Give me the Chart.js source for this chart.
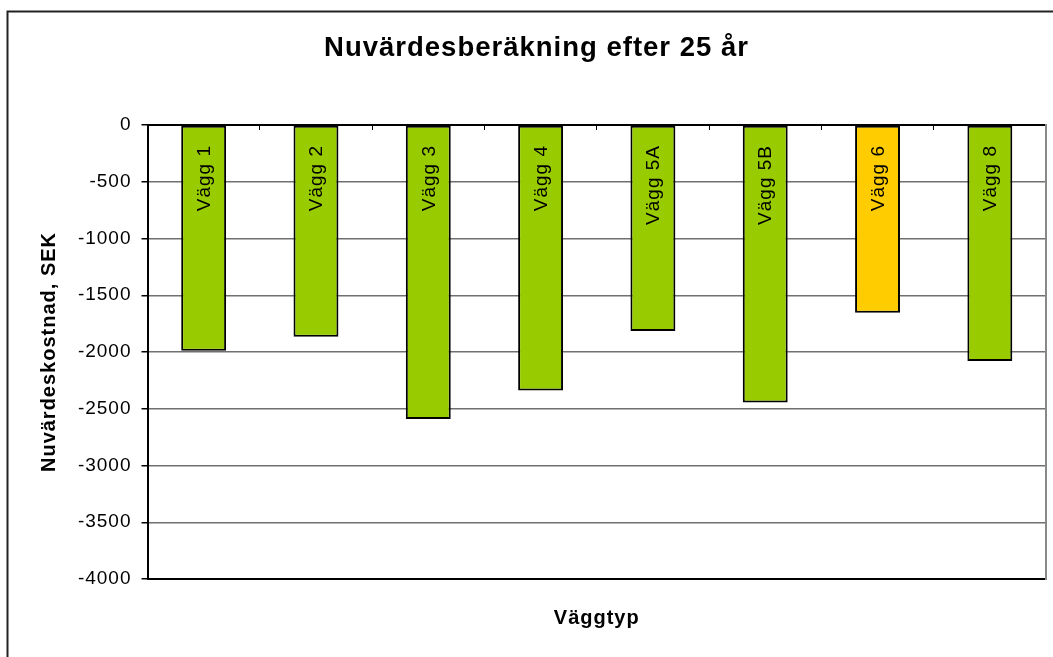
<!DOCTYPE html>
<html>
<head>
<meta charset="utf-8">
<script src="https://cdn.jsdelivr.net/npm/chart.js@4.4.1/dist/chart.umd.min.js"></script>
<style>
  html, body { margin: 0; padding: 0; background: #ffffff; }
  #wrap { width: 1053px; height: 657px; position: relative; }
</style>
</head>
<body>
<div id="wrap"><canvas id="c"></canvas></div>
<script>
const chartTitle = 'Nuvärdesberäkning efter 25 år';
const xTitle = 'Väggtyp';
const yTitle = 'Nuvärdeskostnad, SEK';
const categories = ['Vägg 1', 'Vägg 2', 'Vägg 3', 'Vägg 4', 'Vägg 5A', 'Vägg 5B', 'Vägg 6', 'Vägg 8'];
const values = [-1990, -1865, -2590, -2340, -1815, -2445, -1655, -2080];
const barColors = ['#99CC00', '#99CC00', '#99CC00', '#99CC00', '#99CC00', '#99CC00', '#FFCC00', '#99CC00'];
const yMin = -4000, yMax = 0, yStep = 500;

const FONT = "'Liberation Sans', Arial, sans-serif";

const spacingPlugin = {
  id: 'spacing',
  beforeDraw(chart) {
    chart.ctx.letterSpacing = '1px';
  }
};

const barLabelPlugin = {
  id: 'barLabels',
  afterDatasetsDraw(chart) {
    const ctx = chart.ctx;
    const meta = chart.getDatasetMeta(0);
    const y0 = chart.scales.y.getPixelForValue(0);
    ctx.save();
    ctx.font = '19px ' + FONT;
    ctx.fillStyle = '#000';
    ctx.textAlign = 'right';
    ctx.textBaseline = 'middle';
    meta.data.forEach((bar, i) => {
      ctx.save();
      ctx.translate(bar.x + 1, y0 + 20);
      ctx.rotate(-Math.PI / 2);
      ctx.fillText(categories[i], 0, 0);
      ctx.restore();
    });
    ctx.restore();
  }
};

const framePlugin = {
  id: 'frame',
  afterDraw(chart) {
    const ctx = chart.ctx;
    ctx.save();
    ctx.strokeStyle = '#222';
    ctx.lineWidth = 2;
    ctx.strokeRect(7.5, 11.5, 1200, 800);
    ctx.restore();
  }
};

new Chart(document.getElementById('c'), {
  type: 'bar',
  data: {
    labels: categories,
    datasets: [{
      data: values,
      backgroundColor: barColors,
      borderColor: '#000',
      borderWidth: 2,
      borderSkipped: false,
      categoryPercentage: 1,
      barPercentage: 0.4,
      xAxisID: 'x',
      yAxisID: 'y'
    }]
  },
  options: {
    responsive: true,
    maintainAspectRatio: false,
    animation: false,
    layout: { padding: { left: 20, right: 0, top: 0, bottom: 0 } },
    plugins: {
      legend: { display: false },
      tooltip: { enabled: false },
      title: {
        display: true,
        text: chartTitle,
        color: '#000',
        font: { family: FONT, size: 27.5, weight: 'bold', lineHeight: 1.2 },
        padding: { top: 32, bottom: 60 }
      }
    },
    scales: {
      x: {
        type: 'category',
        position: 'bottom',
        offset: true,
        ticks: { display: false },
        grid: { display: false, offset: true },
        border: { display: true, color: '#000', width: 2 },
        title: {
          display: true,
          text: xTitle,
          color: '#000',
          font: { family: FONT, size: 20, weight: 'bold', lineHeight: 1.2 },
          padding: { top: 0, bottom: 27 }
        },
        afterFit(s) { s.height = 78; }
      },
      x2: {
        type: 'category',
        position: 'top',
        labels: categories,
        offset: true,
        ticks: { display: false },
        grid: {
          display: true,
          offset: true,
          drawOnChartArea: false,
          drawTicks: true,
          tickLength: -5,
          color: '#000',
          lineWidth: 1
        },
        border: { display: true, color: '#000', width: 2 },
        afterFit(s) { s.height = 0; }
      },
      y: {
        position: 'left',
        min: yMin,
        max: yMax,
        ticks: {
          stepSize: yStep,
          color: '#000',
          padding: 10,
          font: { family: FONT, size: 19 },
          callback: (v) => String(v)
        },
        grid: {
          color: '#707070',
          lineWidth: 1.5,
          tickColor: '#000',
          tickLength: 6,
          drawTicks: true
        },
        border: { display: true, color: '#000', width: 2 },
        title: {
          display: true,
          text: yTitle,
          color: '#000',
          font: { family: FONT, size: 20, weight: 'bold', lineHeight: 1.2 },
          padding: { top: 17, bottom: 0 }
        },
        afterFit(s) { s.width = 127.5; }
      },
      y2: {
        position: 'right',
        min: yMin,
        max: yMax,
        ticks: { display: false },
        grid: { display: false, drawOnChartArea: false, drawTicks: false },
        border: { display: true, color: '#888', width: 2 },
        afterFit(s) { s.width = 7; }
      }
    }
  },
  plugins: [spacingPlugin, barLabelPlugin, framePlugin]
});
</script>
</body>
</html>
